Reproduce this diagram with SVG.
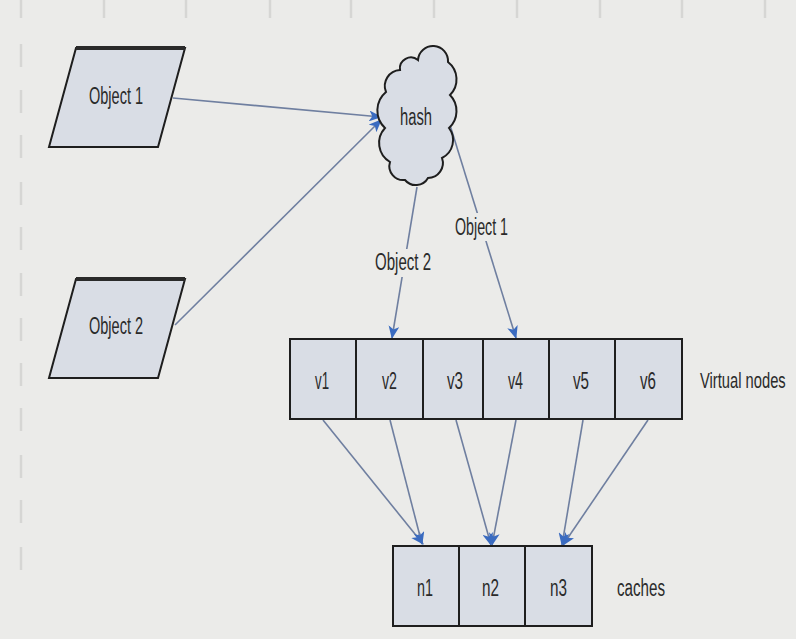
<svg xmlns="http://www.w3.org/2000/svg" width="796" height="639" viewBox="0 0 796 639">
<style>
.bg{fill:#ebebe9}
.tick{stroke:#d6d6d4;stroke-width:2.5}
.node{fill:#d9dde5;stroke:#1e1e1e;stroke-width:2}
.top{stroke:#2a2a2a;stroke-width:4}
.edge{fill:none;stroke:#6f7fa0;stroke-width:1.6;marker-end:url(#ah)}
.t{font-family:"Liberation Sans Narrow","Liberation Sans",Arial,sans-serif;font-size:23px;fill:#2a2a2a}
.lb{fill:#ebebe9}
</style>
<defs>
<marker id="ah" viewBox="0 0 12 10" refX="11" refY="5" markerWidth="13" markerHeight="11" markerUnits="userSpaceOnUse" orient="auto">
<path d="M0,0 L12,5 L0,10 L3,5 Z" fill="#3a6bc0"/>
</marker>
</defs>
<rect class="bg" x="0" y="0" width="796" height="639"/>
<g id="grid">
<line class="tick" x1="21" y1="0" x2="21" y2="18"/>
<line class="tick" x1="104" y1="0" x2="104" y2="18"/>
<line class="tick" x1="186" y1="0" x2="186" y2="18"/>
<line class="tick" x1="270" y1="0" x2="270" y2="18"/>
<line class="tick" x1="351" y1="0" x2="351" y2="18"/>
<line class="tick" x1="434" y1="0" x2="434" y2="18"/>
<line class="tick" x1="517" y1="0" x2="517" y2="18"/>
<line class="tick" x1="600" y1="0" x2="600" y2="18"/>
<line class="tick" x1="682" y1="0" x2="682" y2="18"/>
<line class="tick" x1="765" y1="0" x2="765" y2="18"/>
<line class="tick" x1="21" y1="44" x2="21" y2="67"/>
<line class="tick" x1="21" y1="90" x2="21" y2="113"/>
<line class="tick" x1="21" y1="135" x2="21" y2="158"/>
<line class="tick" x1="21" y1="182" x2="21" y2="205"/>
<line class="tick" x1="21" y1="227" x2="21" y2="250"/>
<line class="tick" x1="21" y1="273" x2="21" y2="296"/>
<line class="tick" x1="21" y1="318" x2="21" y2="341"/>
<line class="tick" x1="21" y1="363" x2="21" y2="386"/>
<line class="tick" x1="21" y1="408" x2="21" y2="431"/>
<line class="tick" x1="21" y1="455" x2="21" y2="478"/>
<line class="tick" x1="21" y1="500" x2="21" y2="523"/>
<line class="tick" x1="21" y1="547" x2="21" y2="570"/>
</g>
<g id="connectors">
<path class="edge" d="M173,98 L381,117"/>
<path class="edge" d="M175,325 L381,120"/>
<path class="edge" d="M417,187 L392,338"/>
<path class="edge" d="M450,125 L516,338"/>
<path class="edge" d="M323,420 L423,544"/>
<path class="edge" d="M390,420 L422,544"/>
<path class="edge" d="M456,420 L491,545"/>
<path class="edge" d="M516,420 L492,545"/>
<path class="edge" d="M583,420 L562,545"/>
<path class="edge" d="M648,420 L563,545"/>
<rect class="lb" x="372" y="249" width="62" height="28"/>
<text class="t" x="375" y="270" textLength="56" lengthAdjust="spacingAndGlyphs">Object 2</text>
<rect class="lb" x="452" y="213" width="60" height="28"/>
<text class="t" x="455" y="235" textLength="53" lengthAdjust="spacingAndGlyphs">Object 1</text>
</g>
<g id="object1">
<polygon class="node" points="76,48 185,48 158,147 49,147"/>
<line class="top" x1="76" y1="48" x2="185" y2="48"/>
<text class="t" x="89" y="104" textLength="54" lengthAdjust="spacingAndGlyphs">Object 1</text>
</g>
<g id="object2">
<polygon class="node" points="76,279 185,279 158,378 49,378"/>
<line class="top" x1="76" y1="279" x2="185" y2="279"/>
<text class="t" x="89" y="334" textLength="54" lengthAdjust="spacingAndGlyphs">Object 2</text>
</g>
<g id="hash">
<path class="node" stroke-width="1.8" d="M386,92 A16,16 0 0 1 400,70 A11,11 0 0 1 418,60 A15,15 0 0 1 448,62 A22,22 0 0 1 450,95 A23,23 0 0 1 449,128 A20,20 0 0 1 442,158 A15,15 0 0 1 428,178 A14,14 0 0 1 405,180 A14,14 0 0 1 390,162 A22,22 0 0 1 385,128 A24,24 0 0 1 386,92 Z"/>
<text class="t" x="400" y="125" textLength="32" lengthAdjust="spacingAndGlyphs">hash</text>
</g>
<g id="virtual-nodes">
<rect class="node" x="290" y="339" width="392" height="80"/>
<line class="node" x1="356" y1="339" x2="356" y2="419"/>
<line class="node" x1="423" y1="339" x2="423" y2="419"/>
<line class="node" x1="483" y1="339" x2="483" y2="419"/>
<line class="node" x1="549" y1="339" x2="549" y2="419"/>
<line class="node" x1="615" y1="339" x2="615" y2="419"/>
<text class="t" x="315" y="389" textLength="14" lengthAdjust="spacingAndGlyphs">v1</text>
<text class="t" x="382" y="389" textLength="15" lengthAdjust="spacingAndGlyphs">v2</text>
<text class="t" x="447" y="389" textLength="16" lengthAdjust="spacingAndGlyphs">v3</text>
<text class="t" x="508" y="389" textLength="15" lengthAdjust="spacingAndGlyphs">v4</text>
<text class="t" x="573" y="389" textLength="16" lengthAdjust="spacingAndGlyphs">v5</text>
<text class="t" x="640" y="389" textLength="16" lengthAdjust="spacingAndGlyphs">v6</text>
<text class="t" style="font-size:22px" transform="translate(700,388) scale(0.67,1)" x="0" y="0">Virtual nodes</text>
</g>
<g id="caches">
<rect class="node" x="393" y="546" width="199" height="80"/>
<line class="node" x1="459" y1="546" x2="459" y2="626"/>
<line class="node" x1="525" y1="546" x2="525" y2="626"/>
<text class="t" x="417" y="596" textLength="16" lengthAdjust="spacingAndGlyphs">n1</text>
<text class="t" x="482" y="596" textLength="17" lengthAdjust="spacingAndGlyphs">n2</text>
<text class="t" x="550" y="596" textLength="17" lengthAdjust="spacingAndGlyphs">n3</text>
<text class="t" x="617" y="596" textLength="48" lengthAdjust="spacingAndGlyphs">caches</text>
</g>
</svg>
